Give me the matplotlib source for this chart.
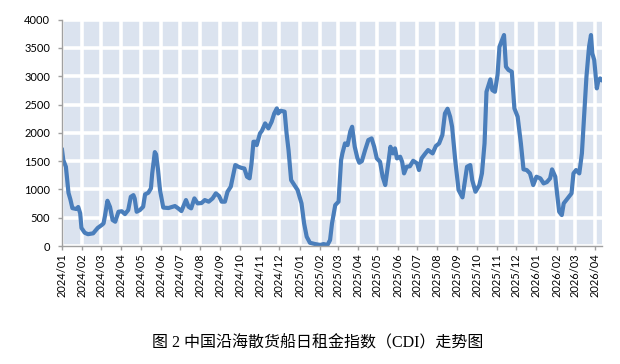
import numpy as np
import pandas as pd
import matplotlib
matplotlib.use("Agg")
import matplotlib.pyplot as plt
import matplotlib.dates as mdates

# CDI readings: days counted from 2024-01-01, and index value
start_date = "2024-01-01"
end_date = "2026-04-12"
days = [0, 2, 6, 10, 13, 16, 22, 25, 28, 30, 35, 40, 48, 55, 61, 64, 66, 70, 74, 78,
        82, 87, 92, 97, 102, 106, 110, 112, 115, 120, 125, 128, 133, 137, 139, 143, 145, 148, 151, 156,
        164, 174, 179, 184, 191, 195, 199, 204, 209, 215, 220, 226, 232, 237, 242, 246, 251, 255, 260, 267,
        272, 277, 281, 285, 289, 292, 295, 298, 300, 305, 308, 313, 318, 323, 327, 331, 333, 337, 343, 346,
        349, 353, 358, 363, 369, 373, 377, 382, 390, 398, 403, 409, 413, 416, 421, 426, 430, 432, 436, 440,
        444, 447, 451, 455, 458, 462, 467, 472, 477, 481, 485, 490, 494, 498, 503, 506, 510, 513, 516, 521,
        524, 527, 531, 536, 541, 547, 550, 554, 559, 564, 571, 576, 581, 586, 590, 594, 598, 601, 606, 611,
        617, 624, 629, 632, 637, 643, 647, 651, 654, 660, 663, 667, 671, 674, 678, 681, 684, 688, 693, 697,
        702, 707, 711, 716, 721, 726, 731, 737, 742, 747, 752, 755, 760, 763, 766, 770, 773, 779, 785, 788,
        792, 797, 801, 804, 808, 812, 815, 817, 820, 824, 826, 829, 832]
cdi = [1700, 1520, 1400, 940, 820, 670, 655, 690, 580, 320, 235, 210, 225, 320, 370, 400, 520, 800, 690, 460,
       430, 606, 615, 565, 636, 870, 900, 840, 606, 636, 694, 913, 942, 1019, 1284, 1660, 1620, 1340, 989, 680,
       672, 707, 666, 618, 813, 694, 666, 842, 754, 760, 813, 784, 842, 931, 884, 784, 784, 960, 1048, 1431,
       1400, 1380, 1370, 1225, 1196, 1460, 1843, 1843, 1784, 1990, 2037, 2167, 2080, 2197, 2343, 2432, 2343, 2390, 2375, 1990,
       1696, 1166, 1078, 989, 754, 400, 165, 58, 35, 20, 35, 20, 106, 400, 724, 784, 1519, 1637, 1814, 1784,
       2020, 2108, 1754, 1560, 1472, 1500, 1696, 1873, 1902, 1754, 1549, 1490, 1225, 1078, 1490, 1754, 1637, 1726, 1549, 1578,
       1490, 1284, 1401, 1410, 1507, 1460, 1343, 1549, 1625, 1696, 1637, 1767, 1814, 1961, 2343, 2426, 2285, 2108, 1500, 989,
       860, 1401, 1431, 1166, 960, 1078, 1284, 1814, 2726, 2945, 2756, 2726, 3021, 3521, 3640, 3728, 3168, 3110, 3080, 2432,
       2285, 1814, 1355, 1343, 1284, 1078, 1225, 1196, 1107, 1130, 1196, 1355, 1225, 900, 606, 548, 754, 842, 931, 1284,
       1343, 1284, 1637, 2226, 2991, 3521, 3728, 3405, 3286, 2786, 2903, 2962, 2932]
y_ticks = [0, 500, 1000, 1500, 2000, 2500, 3000, 3500, 4000]
caption = "图 2 中国沿海散货船日租金指数（CDI）走势图"

dates = pd.Timestamp(start_date) + pd.to_timedelta(days, unit="D")

fig = plt.figure(figsize=(6.2, 3.64), dpi=100)
ax = fig.add_axes([0.1, 0.324, 0.871, 0.622])
ax.set_facecolor("#dbe3ef")

ax.plot(dates, cdi, color="#4a7ebb", lw=3.0, solid_joinstyle="round", zorder=3)

ax.set_xlim(pd.Timestamp(start_date), pd.Timestamp(end_date))
ax.set_ylim(0, 4000)
ax.set_yticks(y_ticks)
ax.xaxis.set_major_locator(mdates.MonthLocator())
ax.xaxis.set_major_formatter(mdates.DateFormatter("%Y/%m"))

ax.grid(True, color="white", lw=2.6)
ax.set_axisbelow(True)

for s in ["top", "right"]:
    ax.spines[s].set_visible(False)
for s in ["left", "bottom"]:
    ax.spines[s].set_color("#a0a0a0")
    ax.spines[s].set_linewidth(1.0)
    ax.spines[s].set_zorder(4)

ax.tick_params(axis="both", colors="#a0a0a0", length=3, width=1.0, direction="out")
ax.tick_params(axis="y", labelcolor="black", labelsize=8, pad=5.5)
ax.tick_params(axis="x", labelcolor="black", labelsize=8, pad=2, labelrotation=90)
for lab in ax.get_xticklabels() + ax.get_yticklabels():
    lab.set_family("Lato")

# serif for the Latin part, CJK glyphs fall back to Noto
fig.text(0.513, 0.056, caption, ha="center", va="center", fontsize=11.5,
         family=["Liberation Serif", "Noto Sans CJK SC", "DejaVu Sans"])

fig.savefig("out.png", dpi=100)
